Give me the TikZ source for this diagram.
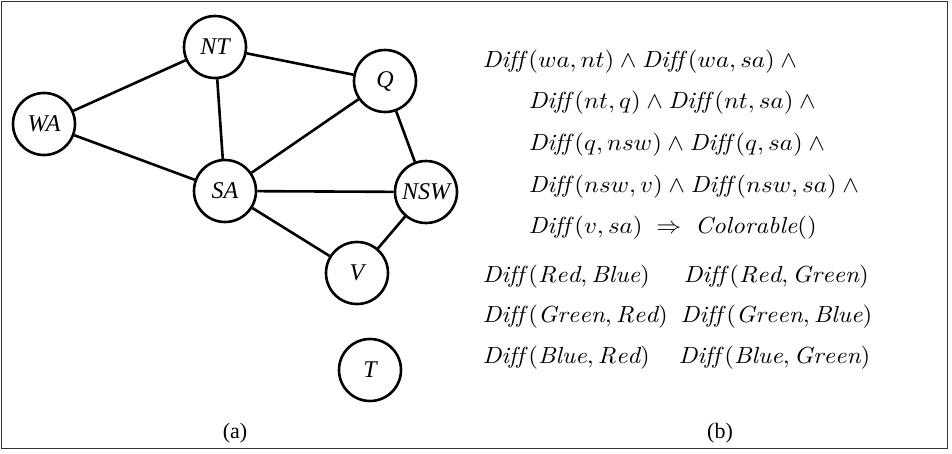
\documentclass[tikz,border=0pt]{standalone}
\usepackage{fontspec}
\newfontfamily\tms{Liberation Serif}
\begin{document}
\begin{tikzpicture}[x=1pt,y=-1pt,
  region/.style={circle,draw,line width=2.6pt,minimum size=62pt,inner sep=0pt,
    font=\tms\itshape\fontsize{24}{28}\selectfont},
  link/.style={line width=2.6pt},
  formula/.style={anchor=base west,inner sep=0pt,xscale=2.49,yscale=2.33},
  caption/.style={anchor=base,inner sep=0pt,font=\tms\fontsize{22}{26}\selectfont}]
\useasboundingbox (0,0) rectangle (952,453);
\draw[line width=1.8pt,black!80] (1.5,1.5) rectangle (947.5,448.5);

% constraint graph of the Australian map
\node[region] (NT)  at (215,47)  {NT};
\node[region] (Q)   at (385,81)  {Q};
\node[region] (WA)  at (44,124)  {WA};
\node[region] (SA)  at (225,191) {SA};
\node[region] (NSW) at (426,192) {NSW};
\node[region] (V)   at (357,273) {V};
\node[region] (T)   at (370,370) {T};

\draw[link] (WA) -- (NT);
\draw[link] (WA) -- (SA);
\draw[link] (NT) -- (SA);
\draw[link] (NT) -- (Q);
\draw[link] (SA) -- (Q);
\draw[link] (Q) -- (NSW);
\draw[link] (SA) -- (NSW);
\draw[link] (SA) -- (V);
\draw[link] (NSW) -- (V);

\node[caption] (capa) at (235,438) {(a)};

% constraints as a definite clause, and the colour facts
\node[formula] (l1) at (482,67)  {$\mathit{Diff}\,(wa, nt) \wedge \mathit{Diff}\,(wa, sa) \wedge{}$};
\node[formula] (l2) at (528,108) {$\mathit{Diff}\,(nt, q) \wedge \mathit{Diff}\,(nt, sa) \wedge{}$};
\node[formula] (l3) at (528,150) {$\mathit{Diff}\,(q, nsw) \wedge \mathit{Diff}\,(q, sa) \wedge{}$};
\node[formula] (l4) at (528,192) {$\mathit{Diff}\,(nsw, v) \wedge \mathit{Diff}\,(nsw, sa) \wedge{}$};
\node[formula] (l5) at (528,233) {$\mathit{Diff}\,(v, sa) \;\Rightarrow\; \mathit{Colorable}()$};

\node[formula] (f11) at (482,282) {$\mathit{Diff}\,(\mathit{Red}, \mathit{Blue})$};
\node[formula] (f12) at (683,282) {$\mathit{Diff}\,(\mathit{Red}, \mathit{Green})$};
\node[formula] (f21) at (482,322) {$\mathit{Diff}\,(\mathit{Green}, \mathit{Red})$};
\node[formula] (f22) at (680,322) {$\mathit{Diff}\,(\mathit{Green}, \mathit{Blue})$};
\node[formula] (f31) at (482,363) {$\mathit{Diff}\,(\mathit{Blue}, \mathit{Red})$};
\node[formula] (f32) at (678,363) {$\mathit{Diff}\,(\mathit{Blue}, \mathit{Green})$};

\node[caption] (capb) at (720,438) {(b)};
\end{tikzpicture}
\end{document}
